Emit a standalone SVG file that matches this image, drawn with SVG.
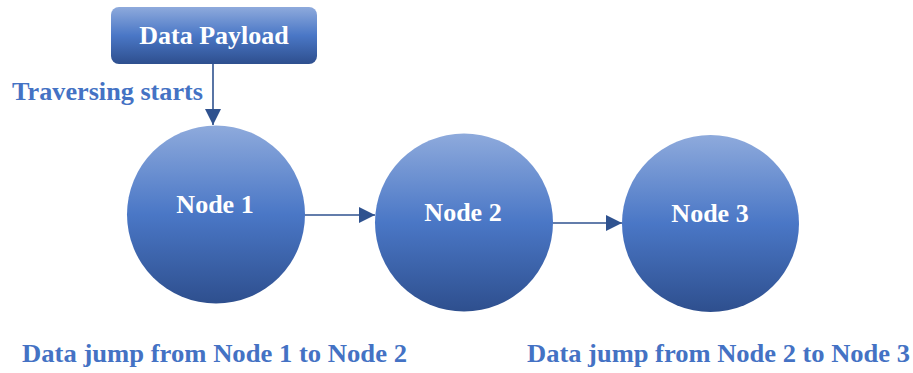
<svg xmlns="http://www.w3.org/2000/svg" width="913" height="373" viewBox="0 0 913 373">
  <defs>
    <linearGradient id="g" x1="0" y1="0" x2="0" y2="1">
      <stop offset="0" stop-color="#8eaadc"/>
      <stop offset="0.5" stop-color="#4a77c6"/>
      <stop offset="1" stop-color="#2e4f8e"/>
    </linearGradient>
    <marker id="arr" markerWidth="16" markerHeight="16" refX="16" refY="8" orient="auto" markerUnits="userSpaceOnUse">
      <path d="M0,0 L16,8 L0,16 Z" fill="#2f528f"/>
    </marker>
  </defs>
  <style>
    .shape { fill: url(#g); }
    .lbl { font-family: "Liberation Serif", "Times New Roman", serif; font-weight: bold; font-size: 26px; fill: #ffffff; text-anchor: middle; }
    .cap { font-family: "Liberation Serif", "Times New Roman", serif; font-weight: bold; font-size: 26px; fill: #4472c4; }
    .conn { stroke: #2f528f; stroke-width: 1.6; fill: none; }
  </style>
  <rect width="913" height="373" fill="#ffffff"/>
  <g id="connectors">
    <line class="conn" x1="213" y1="64" x2="213" y2="125" marker-end="url(#arr)"/>
    <line class="conn" x1="305" y1="215" x2="375" y2="215" marker-end="url(#arr)"/>
    <line class="conn" x1="553" y1="223" x2="622" y2="223" marker-end="url(#arr)"/>
  </g>
  <g id="payload">
    <rect class="shape" x="111" y="7" width="206" height="57" rx="8"/>
    <text class="lbl" x="214" y="44">Data Payload</text>
  </g>
  <g id="node1">
    <circle class="shape" cx="216" cy="214.5" r="89"/>
    <text class="lbl" x="215" y="213">Node 1</text>
  </g>
  <g id="node2">
    <circle class="shape" cx="464" cy="222.5" r="89"/>
    <text class="lbl" x="463" y="221">Node 2</text>
  </g>
  <g id="node3">
    <circle class="shape" cx="710.5" cy="223.5" r="88.5"/>
    <text class="lbl" x="710" y="222">Node 3</text>
  </g>
  <g id="labels">
    <text class="cap" x="12" y="100" textLength="191" lengthAdjust="spacingAndGlyphs">Traversing starts</text>
    <text class="cap" x="22" y="362" textLength="385" lengthAdjust="spacingAndGlyphs">Data jump from Node 1 to Node 2</text>
    <text class="cap" x="527" y="362" textLength="383" lengthAdjust="spacingAndGlyphs">Data jump from Node 2 to Node 3</text>
  </g>
</svg>
